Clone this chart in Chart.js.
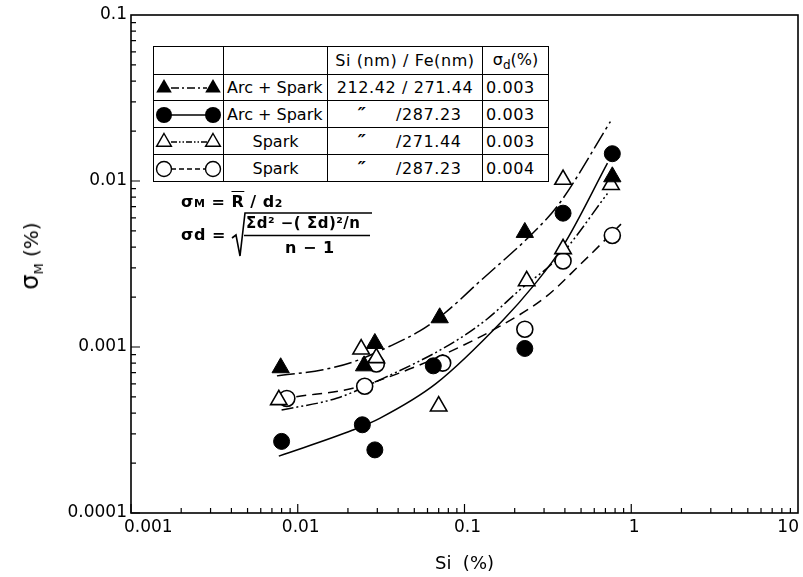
<!DOCTYPE html>
<html><head><meta charset="utf-8">
<script src="https://cdn.jsdelivr.net/npm/chart.js@4.4.1/dist/chart.umd.min.js"></script>
<style>
html,body{margin:0;padding:0;background:#fff;}
#wrap{position:relative;width:803px;height:577px;overflow:hidden;}
#c{position:absolute;left:0;top:0;}
#legend{position:absolute;left:153px;top:46px;border-collapse:collapse;font-family:'DejaVu Sans',sans-serif;font-size:16px;background:#fff;color:#000;}
#legend td{border:1.5px solid #000;height:25px;padding:0;white-space:nowrap;line-height:25px;overflow:hidden;}
#legend svg{display:block;}
.c1{width:69px;}
.c2{width:100px;max-width:100px;}
.c3{width:154px;}
.c4{width:62px;}
.l{text-align:left;padding-left:3px !important;}
.ctr{text-align:center;}
.ls{letter-spacing:0.6px;}
.ditto{display:inline-block;width:68px;text-align:center;font-style:italic;font-weight:bold;font-size:18px;}
.frm{position:absolute;font-family:'DejaVu Sans',sans-serif;font-weight:bold;font-size:16px;white-space:nowrap;color:#000;letter-spacing:0.5px;}
.sub{font-size:11px;font-weight:bold;}
#ytitle{position:absolute;left:30px;top:256px;transform:translate(-50%,-50%) rotate(-90deg);font-family:'DejaVu Sans',sans-serif;font-size:20px;white-space:nowrap;}
</style></head>
<body>
<div id="wrap">
<canvas id="c" width="803" height="577"></canvas>
<div id="ytitle"><span style="font-size:24px">σ</span><span style="font-size:13px;position:relative;top:5px">M</span>&nbsp;(%)</div>

<table id="legend">
<tr><td class="c1"></td><td class="c2"></td><td class="c3 ctr ls">Si (nm) / Fe(nm)</td><td class="c4 ctr">σ<span style="font-size:12px;position:relative;top:4px">d</span>(%)</td></tr>
<tr><td class="c1"><svg width="69" height="25"><line x1="17" y1="13" x2="53" y2="13" stroke="#000" stroke-width="1.5" stroke-dasharray="8,3,2,3"/><polygon points="10,4 17.8,17.5 2.2,17.5" fill="#000"/><polygon points="59,4 66.8,17.5 51.2,17.5" fill="#000"/></svg></td><td class="c2 l">Arc + Spark</td><td class="c3 ctr ls">212.42 / 271.44</td><td class="c4 l ls">0.003</td></tr>
<tr><td class="c1"><svg width="69" height="25"><line x1="17" y1="13" x2="53" y2="13" stroke="#000" stroke-width="1.5"/><circle cx="10" cy="13" r="8" fill="#000"/><circle cx="59" cy="13" r="8" fill="#000"/></svg></td><td class="c2 l">Arc + Spark</td><td class="c3 ls"><span class="ditto">″</span>/287.23</td><td class="c4 l ls">0.003</td></tr>
<tr><td class="c1"><svg width="69" height="25"><line x1="17" y1="13" x2="53" y2="13" stroke="#000" stroke-width="1.5" stroke-dasharray="6,2,1.5,2,1.5,2"/><polygon points="10,4.5 17.4,17.3 2.6,17.3" fill="#fff" stroke="#000" stroke-width="1.4"/><polygon points="59,4.5 66.4,17.3 51.6,17.3" fill="#fff" stroke="#000" stroke-width="1.4"/></svg></td><td class="c2 ctr">Spark</td><td class="c3 ls"><span class="ditto">″</span>/271.44</td><td class="c4 l ls">0.003</td></tr>
<tr><td class="c1"><svg width="69" height="25"><line x1="17" y1="13" x2="53" y2="13" stroke="#000" stroke-width="1.5" stroke-dasharray="5,3"/><circle cx="10" cy="13" r="7.5" fill="#fff" stroke="#000" stroke-width="1.4"/><circle cx="59" cy="13" r="7.5" fill="#fff" stroke="#000" stroke-width="1.4"/></svg></td><td class="c2 ctr">Spark</td><td class="c3 ls"><span class="ditto">″</span>/287.23</td><td class="c4 l ls">0.004</td></tr>
</table>

<div class="frm" style="left:181px;top:192px;">σ<span class="sub">M</span> = <span style="text-decoration:overline">R</span> / d<span class="sub">2</span></div>
<div class="frm" style="left:181px;top:225px;">σd =</div>
<svg style="position:absolute;left:0;top:0;" width="803" height="577"><polyline points="232,238 236,235 240,256 245,213 372,213" fill="none" stroke="#000" stroke-width="1.6"/><line x1="244" y1="235.5" x2="370" y2="235.5" stroke="#000" stroke-width="1.6"/></svg>
<div class="frm" style="left:246px;top:214px;font-size:15px;">Σd² −( Σd)²/n</div>
<div class="frm" style="left:285px;top:238px;">n − 1</div>
</div>

<script>
// ---- data ----
const xTickValues = [0.001, 0.01, 0.1, 1, 10];
const xTickLabels = ['0.001', '0.01', '0.1', '1', '10'];
const yTickValues = [0.0001, 0.001, 0.01, 0.1];
const yTickLabels = ['0.0001', '0.001', '0.01', '0.1'];

// Arc + Spark, 212.42/271.44 (filled triangles)
const arcTriX = [0.0079, 0.025, 0.029, 0.071, 0.23, 0.77];
const arcTriY = [0.00075, 0.00077, 0.00105, 0.0015, 0.0049, 0.0106];
// Arc + Spark, /287.23 (filled circles)
const arcCirX = [0.008, 0.0244, 0.029, 0.065, 0.23, 0.39, 0.77];
const arcCirY = [0.00027, 0.00034, 0.00024, 0.00077, 0.00098, 0.0064, 0.0146];
// Spark, /271.44 (open triangles)
const sparkTriX = [0.0077, 0.024, 0.0296, 0.070, 0.236, 0.39, 0.39, 0.756];
const sparkTriY = [0.00048, 0.00097, 0.00086, 0.00044, 0.0025, 0.0039, 0.0102, 0.0095];
// Spark, /287.23 (open circles)
const sparkCirX = [0.0086, 0.0252, 0.0296, 0.074, 0.23, 0.39, 0.77];
const sparkCirY = [0.00049, 0.00058, 0.00079, 0.00080, 0.00128, 0.0033, 0.0047];

// fitted curves
const fitArcTriX = [0.0075, 0.0142, 0.022, 0.0356, 0.054, 0.075, 0.12, 0.27, 0.37, 0.75];
const fitArcTriY = [0.00067, 0.00073, 0.00082, 0.00101, 0.00125, 0.00158, 0.00242, 0.0051, 0.0073, 0.0228];
const fitArcCirX = [0.0077, 0.0214, 0.031, 0.0677, 0.17, 0.2565, 0.388, 0.72];
const fitArcCirY = [0.00022, 0.000316, 0.000372, 0.000604, 0.00145, 0.00231, 0.00402, 0.0128];
const fitSparkTriX = [0.0080, 0.0171, 0.031, 0.081, 0.135, 0.2135, 0.37, 0.72];
const fitSparkTriY = [0.000417, 0.000491, 0.000633, 0.00103, 0.00146, 0.0022, 0.0035, 0.0084];
const fitSparkCirX = [0.0098, 0.0214, 0.0427, 0.0777, 0.162, 0.3085, 0.488, 0.868];
const fitSparkCirY = [0.000502, 0.000564, 0.00071, 0.000916, 0.00133, 0.00201, 0.0031, 0.0055];

function pts(xs, ys) { return xs.map((x, i) => ({ x: x, y: ys[i] })); }

const marker = (d, style, r, fill) => ({
  data: d, showLine: false, pointStyle: style, pointRadius: r, pointHoverRadius: r,
  pointBackgroundColor: fill, pointBorderColor: '#000', pointBorderWidth: fill === '#000' ? 1 : 1.6, order: 0
});
const curve = (d, dash) => ({
  data: d, showLine: true, pointRadius: 0, borderColor: '#000', borderWidth: 1.5,
  borderDash: dash, cubicInterpolationMode: 'monotone', fill: false, order: 1
});

const axisPlugin = {
  id: 'axisPlugin',
  afterDraw(chart) {
    const { ctx, chartArea: a } = chart;
    const xs = chart.scales.x, ys = chart.scales.y;
    ctx.save();
    ctx.strokeStyle = '#000';
    ctx.lineWidth = 1.6;
    ctx.strokeRect(a.left, a.top, a.right - a.left, a.bottom - a.top);
    ctx.lineWidth = 1.2;
    ctx.beginPath();
    for (let e = -3; e < 1; e++) {
      for (let m = 1; m < 10; m++) {
        const v = m * Math.pow(10, e);
        const px = xs.getPixelForValue(v);
        const len = m === 1 ? 9 : 5;
        ctx.moveTo(px, a.bottom); ctx.lineTo(px, a.bottom - len);
      }
    }
    for (let e = -4; e < -1; e++) {
      for (let m = 1; m < 10; m++) {
        const v = m * Math.pow(10, e);
        const py = ys.getPixelForValue(v);
        const len = m === 1 ? 9 : 5;
        ctx.moveTo(a.left, py); ctx.lineTo(a.left + len, py);
      }
    }
    ctx.stroke();
    // x tick labels
    ctx.fillStyle = '#000';
    ctx.font = '17px "DejaVu Sans"';
    ctx.textBaseline = 'middle';
    xTickValues.forEach((v, i) => {
      const px = xs.getPixelForValue(v);
      if (i === 0) { ctx.textAlign = 'left'; ctx.fillText(xTickLabels[i], px - 7, 528); }
      else if (i === xTickValues.length - 1) { ctx.textAlign = 'right'; ctx.fillText(xTickLabels[i], Math.min(px + 1, 801), 528); }
      else { ctx.textAlign = 'center'; ctx.fillText(xTickLabels[i], px + 3, 528); }
    });
    ctx.restore();
  }
};

new Chart(document.getElementById('c'), {
  type: 'scatter',
  data: {
    datasets: [
      marker(pts(arcTriX, arcTriY), 'triangle', 10, '#000'),
      marker(pts(arcCirX, arcCirY), 'circle', 8, '#000'),
      marker(pts(sparkTriX, sparkTriY), 'triangle', 9.5, '#fff'),
      marker(pts(sparkCirX, sparkCirY), 'circle', 8, '#fff'),
      curve(pts(fitArcTriX, fitArcTriY), [18, 4, 3, 4]),
      curve(pts(fitArcCirX, fitArcCirY), []),
      curve(pts(fitSparkTriX, fitSparkTriY), [12, 3, 2, 3, 2, 3]),
      curve(pts(fitSparkCirX, fitSparkCirY), [10, 6])
    ]
  },
  options: {
    responsive: false,
    animation: false,
    devicePixelRatio: 1,
    layout: { autoPadding: false, padding: { top: 15, right: 5, left: 0, bottom: 0 } },
    plugins: { legend: { display: false }, tooltip: { enabled: false } },
    scales: {
      x: {
        type: 'logarithmic', min: 0.001, max: 10,
        grid: { display: false, drawTicks: false },
        border: { display: false },
        ticks: { display: false, autoSkip: false },
        title: { display: true, text: 'Si  (%)', color: '#000', font: { family: 'DejaVu Sans', size: 18 }, padding: { top: 0, bottom: 2 } },
        afterFit(s) { s.height = 64; }
      },
      y: {
        type: 'logarithmic', min: 0.0001, max: 0.1,
        grid: { display: false, drawTicks: false },
        border: { display: false },
        ticks: {
          autoSkip: false, color: '#000', padding: 4,
          font: { family: 'DejaVu Sans', size: 17 },
          callback: (v) => { const i = yTickValues.findIndex(t => Math.abs(t - v) / t < 1e-6); return i >= 0 ? yTickLabels[i] : ''; }
        },
        afterFit(s) { s.width = 131; }
      }
    }
  },
  plugins: [axisPlugin]
});
</script>
</body></html>
